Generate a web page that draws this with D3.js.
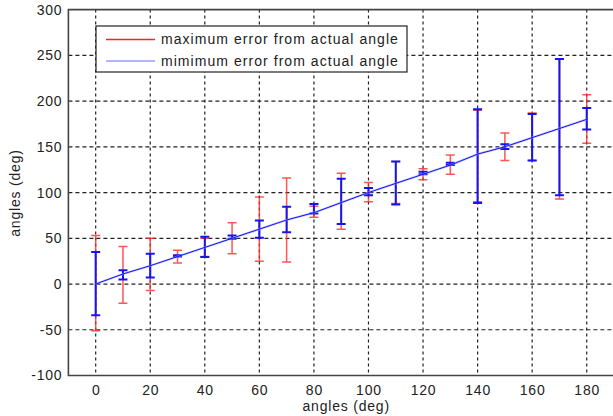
<!DOCTYPE html>
<html>
<head>
<meta charset="utf-8">
<script src="https://cdn.jsdelivr.net/npm/d3@7"></script>
<style>
  html, body { margin: 0; padding: 0; background: #fff; }
  svg { display: block; }
  text { font-family: "Liberation Sans", Arial, sans-serif; fill: #222; }
</style>
</head>
<body>
<svg id="chart" width="613" height="416"></svg>
<script>
// Angles at which the measurement was taken (deg)
const angles = [0, 10, 20, 30, 40, 50, 60, 70, 80, 90, 100, 110, 120, 130, 140, 150, 160, 170, 180];
// Estimated angle along the fit line (deg)
const estimated = [0, 11, 20, 30, 40, 50, 60, 70, 78, 89, 100, 110, 120, 130, 142, 150, 160, 170, 180];
// Maximum-error bar extents (deg)
const maxLow  = [-51, -21, -7, 23, 30, 33, 25, 24, 73, 60, 90, 88, 114, 120, 90, 135, 135, 93, 154];
const maxHigh = [53, 41, 50, 37, 50, 67, 95, 116, 85, 121, 111, 134, 126, 141, 190, 165, 187, 246, 207];
// Minimum-error bar extents (deg)
const minLow  = [-34, 5, 7, 30, 29.5, 49.6, 50.7, 56.5, 77, 65.6, 97, 87, 120, 130, 88.6, 147.6, 135, 97, 169];
const minHigh = [35, 15, 33, 31.5, 51.7, 53, 69.5, 84.6, 87.5, 115, 105, 134, 122.8, 132.7, 191, 152.7, 186, 246, 192.4];

const xTicks = [0, 20, 40, 60, 80, 100, 120, 140, 160, 180];
const yTicks = [-100, -50, 0, 50, 100, 150, 200, 250, 300];
const legendLabels = ["maximum error from actual angle", "mimimum error from actual angle"];
const axisTitleX = "angles (deg)";
const axisTitleY = "angles (deg)";

const svg = d3.select("#chart");
const plotLeft = 68.4, plotRight = 614, plotTop = 9.6, plotBottom = 375.5;

const x = d3.scaleLinear().domain([-10, 190]).range([plotLeft, plotRight]);
const y = d3.scaleLinear().domain([-100, 300]).range([plotBottom, plotTop]);

// Dashed grid
const grid = svg.append("g");
grid.selectAll("line.v").data(xTicks).join("line").attr("class", "v")
  .attr("x1", d => x(d)).attr("x2", d => x(d))
  .attr("y1", plotTop).attr("y2", plotBottom)
  .attr("stroke", "#222").attr("stroke-width", 1.2)
  .attr("stroke-dasharray", "3,3");
grid.selectAll("line.h").data(yTicks.slice(1, -1)).join("line").attr("class", "h")
  .attr("x1", plotLeft).attr("x2", plotRight)
  .attr("y1", d => y(d)).attr("y2", d => y(d))
  .attr("stroke", "#222").attr("stroke-width", 1.2)
  .attr("stroke-dasharray", "4,3");

// Axes with labels only; the frame is drawn separately
const fmt = d => String(d);
const xAxis = svg.append("g").attr("transform", `translate(0,${plotBottom})`)
  .call(d3.axisBottom(x).tickValues(xTicks).tickFormat(fmt).tickSize(0).tickPadding(10));
const yAxis = svg.append("g").attr("transform", `translate(${plotLeft},0)`)
  .call(d3.axisLeft(y).tickValues(yTicks).tickFormat(fmt).tickSize(0).tickPadding(6));
[xAxis, yAxis].forEach(a => {
  a.select(".domain").remove();
  a.selectAll("text").attr("font-size", 14).attr("letter-spacing", "0.8px")
    .attr("font-family", "Liberation Sans, Arial, sans-serif").attr("fill", "#222");
});

// Plot frame
svg.append("path")
  .attr("d", `M${plotRight},${plotTop}H${plotLeft}V${plotBottom}H${plotRight}`)
  .attr("fill", "none").attr("stroke", "#444").attr("stroke-width", 1.6);

const cap = 4.5;
function errorBars(lows, highs, color, width, opacity) {
  const g = svg.append("g").attr("stroke", color).attr("stroke-width", width)
    .attr("stroke-opacity", opacity).attr("fill", "none");
  g.selectAll("path").data(angles).join("path")
    .attr("d", (a, i) => {
      const cx = x(a), y0 = y(lows[i]), y1 = y(highs[i]);
      return `M${cx},${y0}V${y1}M${cx - cap},${y0}H${cx + cap}M${cx - cap},${y1}H${cx + cap}`;
    });
}
errorBars(maxLow, maxHigh, "#ff2a2a", 1.5, 0.8);
errorBars(minLow, minHigh, "#1414f0", 2, 1);

// Fit line with a soft halo
const line = d3.line().x((d, i) => x(angles[i])).y(d => y(d));
svg.append("path").datum(estimated).attr("d", line)
  .attr("fill", "none").attr("stroke", "#a0a0ff").attr("stroke-width", 2.2).attr("stroke-opacity", 0.6);
svg.append("path").datum(estimated).attr("d", line)
  .attr("fill", "none").attr("stroke", "#0000ee").attr("stroke-width", 0.9);

// Legend
const lg = svg.append("g");
lg.append("rect").attr("x", 96).attr("y", 26).attr("width", 311).attr("height", 46)
  .attr("fill", "#fff").attr("stroke", "#222").attr("stroke-width", 1.2);
const legendColors = ["#ff2020", "#9a9aff"];
legendLabels.forEach((t, i) => {
  const ly = 39.5 + i * 21.5;
  lg.append("line").attr("x1", 106).attr("x2", 155).attr("y1", ly).attr("y2", ly)
    .attr("stroke", legendColors[i]).attr("stroke-width", 1.4);
  lg.append("text").attr("x", 161).attr("y", ly).attr("dy", "0.35em")
    .attr("font-size", 14).attr("letter-spacing", "1.05px").text(t);
});

// Axis titles
svg.append("text").attr("x", (x(0) + x(180)) / 2 + 5).attr("y", 406).attr("dy", "0.35em")
  .attr("text-anchor", "middle").attr("font-size", 14).attr("letter-spacing", "0.8px").text(axisTitleX);
svg.append("text").attr("transform", `translate(15,193) rotate(-90)`).attr("dy", "0.35em")
  .attr("text-anchor", "middle").attr("font-size", 14).attr("letter-spacing", "0.8px").text(axisTitleY);
</script>
</body>
</html>
